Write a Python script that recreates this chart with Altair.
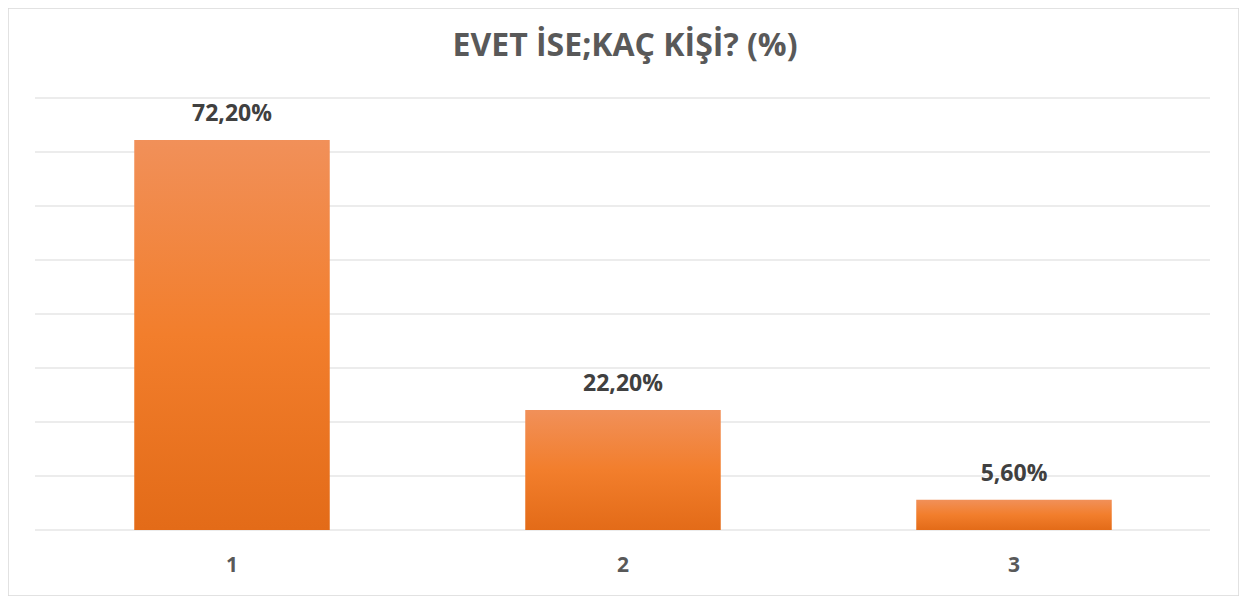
import altair as alt
import pandas as pd

categories = ["1", "2", "3"]
values = [72.2, 22.2, 5.6]
labels = ["72,20%", "22,20%", "5,60%"]
grid_values = [0, 10, 20, 30, 40, 50, 60, 70, 80]
title_text = ["EVET İSE;KAÇ KİŞİ? (%)"]

df = pd.DataFrame({"cat": categories, "val": values, "lab": labels})
grid_df = pd.DataFrame({"g": grid_values})
title_df = pd.DataFrame({"t": title_text})

FONT = "Open Sans"
TEXT_COLOR = "#595959"

x_scale = alt.Scale(domain=categories, range=[28.5, 1201.5], paddingInner=0.5, paddingOuter=0.25)
y_scale = alt.Scale(domain=[0, 80], range=[522, 90], nice=False, zero=True)

grid = alt.Chart(grid_df).mark_rule(color="#D9D9D9", strokeWidth=1).encode(
    y=alt.Y("g:Q", scale=y_scale, axis=None),
    x=alt.value(27),
    x2=alt.value(1202),
)

gradient = alt.Gradient(
    gradient="linear",
    stops=[
        alt.GradientStop(color="#F19059", offset=0),
        alt.GradientStop(color="#F27E2C", offset=0.5),
        alt.GradientStop(color="#E36B18", offset=1),
    ],
    x1=0, x2=0, y1=0, y2=1,
)

bars = alt.Chart(df).mark_bar(color=gradient).encode(
    x=alt.X("cat:N", scale=x_scale, axis=None, sort=categories),
    y=alt.Y("val:Q", scale=y_scale, axis=None),
)

value_labels = alt.Chart(df).mark_text(
    font=FONT, fontSize=23, fontWeight="bold", color="#404040",
    baseline="alphabetic", dy=-19,
).encode(
    x=alt.X("cat:N", scale=x_scale, axis=None, sort=categories),
    y=alt.Y("val:Q", scale=y_scale, axis=None),
    text="lab:N",
)

x_labels = alt.Chart(df).mark_text(
    font=FONT, fontSize=21, fontWeight="bold", color=TEXT_COLOR,
    baseline="middle",
).encode(
    x=alt.X("cat:N", scale=x_scale, axis=None, sort=categories),
    y=alt.value(558),
    text="cat:N",
)

title = alt.Chart(title_df).mark_text(
    font=FONT, fontSize=32, fontWeight="bold", color=TEXT_COLOR,
    baseline="middle", align="center",
).encode(
    x=alt.value(617),
    y=alt.value(38),
    text="t:N",
)

chart = alt.layer(grid, bars, value_labels, x_labels, title).properties(
    width=1231, height=588,
    autosize=alt.AutoSizeParams(type="none"),
    padding=0,
    background="white",
).configure_view(stroke="#D9D9D9", strokeWidth=1.5)

chart.save("out.html", embed_options={"renderer": "svg", "actions": False})
